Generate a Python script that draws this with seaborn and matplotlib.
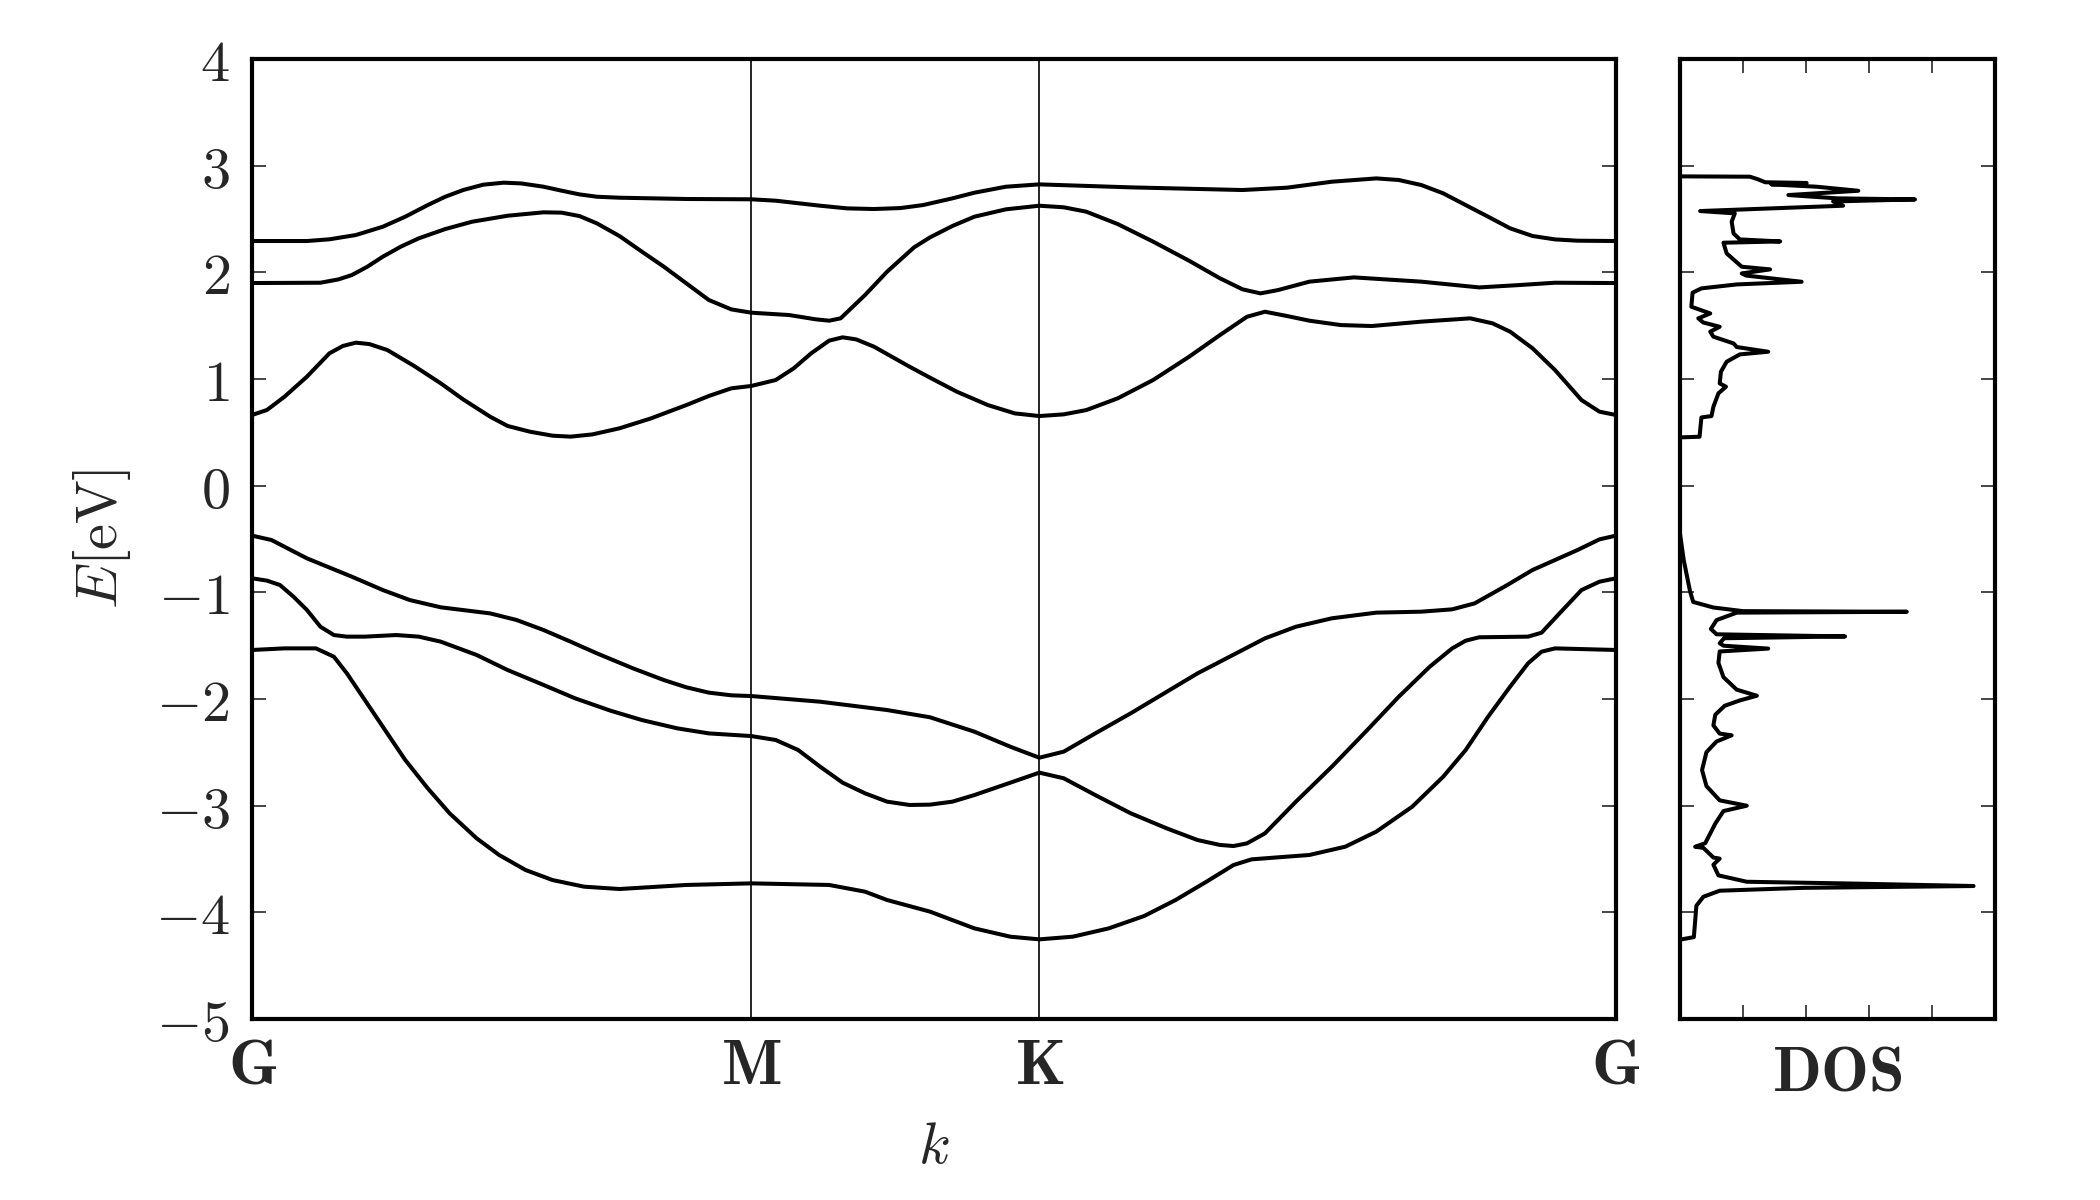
import numpy as np
import pandas as pd
import seaborn as sns
import matplotlib.pyplot as plt

# high symmetry points along the path (hexagonal BZ, |GM| = 1)
kpath_labels = ['G', 'M', 'K', 'G']
kpath_pos = [0.0, 1.0, 1.577, 2.732]
e_ticks = [-5, -4, -3, -2, -1, 0, 1, 2, 3, 4]
dos_ticks = [1, 2, 3, 4]

# bands, lowest first
k1 = [0, 0.065, 0.128, 0.164, 0.19, 0.226, 0.271, 0.307, 0.352, 0.396, 0.45, 0.495, 0.548, 0.602,
      0.665, 0.736, 0.87, 1.0, 1.156, 1.228, 1.272, 1.358, 1.447, 1.519, 1.577, 1.644, 1.716,
      1.787, 1.85, 1.912, 1.966, 2.002, 2.055, 2.118, 2.19, 2.252, 2.324, 2.386, 2.431, 2.476,
      2.52, 2.556, 2.583, 2.61, 2.732]
E1 = [-1.540, -1.525, -1.525, -1.603, -1.759, -2.009, -2.322, -2.572, -2.837, -3.072, -3.306,
      -3.462, -3.603, -3.697, -3.759, -3.781, -3.743, -3.728, -3.743, -3.806, -3.884, -3.993,
      -4.150, -4.228, -4.253, -4.228, -4.150, -4.034, -3.884, -3.712, -3.556, -3.503, -3.484,
      -3.462, -3.384, -3.243, -3.009, -2.728, -2.478, -2.165, -1.884, -1.665, -1.556, -1.525, -1.540]

k2 = [0, 0.03, 0.056, 0.083, 0.11, 0.137, 0.164, 0.19, 0.226, 0.289, 0.334, 0.378, 0.45, 0.512,
      0.584, 0.647, 0.718, 0.781, 0.852, 0.915, 1.0, 1.049, 1.094, 1.138, 1.183, 1.228, 1.272,
      1.317, 1.358, 1.403, 1.447, 1.519, 1.577, 1.626, 1.689, 1.76, 1.832, 1.894, 1.939, 1.966,
      1.993, 2.029, 2.091, 2.163, 2.234, 2.297, 2.359, 2.404, 2.431, 2.458, 2.556, 2.583, 2.619,
      2.663, 2.699, 2.732]
E2 = [-0.868, -0.890, -0.931, -1.040, -1.165, -1.322, -1.400, -1.415, -1.415, -1.400, -1.415,
      -1.462, -1.587, -1.728, -1.868, -1.993, -2.109, -2.197, -2.275, -2.322, -2.347, -2.384,
      -2.478, -2.634, -2.784, -2.884, -2.962, -2.993, -2.990, -2.962, -2.900, -2.784, -2.690,
      -2.743, -2.900, -3.071, -3.212, -3.322, -3.368, -3.378, -3.353, -3.259, -2.962, -2.634,
      -2.290, -1.978, -1.697, -1.525, -1.453, -1.421, -1.415, -1.378, -1.197, -0.978, -0.900, -0.868]

k3 = [0, 0.039, 0.11, 0.2, 0.262, 0.316, 0.378, 0.477, 0.53, 0.584, 0.638, 0.691, 0.763, 0.825,
      0.87, 0.915, 0.96, 1.0, 1.138, 1.272, 1.358, 1.447, 1.519, 1.577, 1.626, 1.689, 1.76,
      1.894, 2.029, 2.091, 2.163, 2.252, 2.342, 2.404, 2.449, 2.511, 2.565, 2.655, 2.699, 2.732]
E3 = [-0.468, -0.509, -0.681, -0.853, -0.978, -1.072, -1.140, -1.197, -1.259, -1.353, -1.462,
      -1.572, -1.712, -1.822, -1.890, -1.940, -1.965, -1.972, -2.025, -2.103, -2.171, -2.306,
      -2.447, -2.550, -2.493, -2.322, -2.134, -1.759, -1.431, -1.322, -1.243, -1.190, -1.181,
      -1.159, -1.103, -0.940, -0.790, -0.603, -0.503, -0.468]

k4 = [0, 0.03, 0.065, 0.11, 0.155, 0.182, 0.208, 0.235, 0.271, 0.325, 0.378, 0.423, 0.477, 0.512,
      0.557, 0.602, 0.638, 0.682, 0.736, 0.799, 0.87, 0.915, 0.96, 1.0, 1.049, 1.085, 1.12,
      1.156, 1.183, 1.21, 1.246, 1.317, 1.358, 1.412, 1.474, 1.528, 1.577, 1.626, 1.671, 1.734,
      1.805, 1.877, 1.939, 1.993, 2.029, 2.073, 2.118, 2.181, 2.243, 2.342, 2.44, 2.485, 2.52,
      2.565, 2.61, 2.663, 2.699, 2.732]
E4 = [0.663, 0.710, 0.834, 1.022, 1.241, 1.310, 1.341, 1.328, 1.272, 1.122, 0.960, 0.809, 0.647,
      0.560, 0.506, 0.469, 0.460, 0.481, 0.538, 0.631, 0.756, 0.841, 0.913, 0.935, 0.991, 1.100,
      1.241, 1.360, 1.391, 1.372, 1.303, 1.116, 1.013, 0.881, 0.756, 0.678, 0.653, 0.669, 0.709,
      0.819, 0.991, 1.209, 1.413, 1.584, 1.631, 1.591, 1.547, 1.506, 1.497, 1.538, 1.569, 1.522,
      1.444, 1.288, 1.084, 0.803, 0.694, 0.663]

k5 = [0, 0.137, 0.173, 0.2, 0.231, 0.262, 0.298, 0.334, 0.387, 0.441, 0.512, 0.584, 0.62, 0.656,
      0.691, 0.736, 0.781, 0.825, 0.87, 0.915, 0.96, 1.0, 1.076, 1.129, 1.156, 1.179, 1.228,
      1.272, 1.326, 1.358, 1.403, 1.447, 1.51, 1.577, 1.626, 1.671, 1.734, 1.805, 1.877, 1.939,
      1.984, 2.02, 2.055, 2.118, 2.207, 2.342, 2.458, 2.538, 2.61, 2.732]
E5 = [1.900, 1.903, 1.934, 1.975, 2.053, 2.147, 2.241, 2.319, 2.406, 2.475, 2.531, 2.563, 2.560,
      2.528, 2.459, 2.341, 2.194, 2.053, 1.897, 1.741, 1.653, 1.622, 1.600, 1.560, 1.547, 1.569,
      1.788, 2.006, 2.234, 2.328, 2.435, 2.522, 2.591, 2.625, 2.610, 2.569, 2.453, 2.288, 2.109,
      1.944, 1.841, 1.803, 1.834, 1.913, 1.953, 1.913, 1.859, 1.881, 1.903, 1.900]

k6 = [0, 0.11, 0.155, 0.208, 0.262, 0.307, 0.352, 0.387, 0.423, 0.463, 0.504, 0.539, 0.584, 0.62,
      0.656, 0.691, 0.736, 0.87, 1.0, 1.049, 1.138, 1.192, 1.246, 1.299, 1.344, 1.403, 1.447,
      1.51, 1.577, 1.76, 1.984, 2.073, 2.163, 2.252, 2.297, 2.342, 2.386, 2.431, 2.476, 2.52,
      2.565, 2.61, 2.655, 2.732]
E6 = [2.294, 2.294, 2.310, 2.350, 2.428, 2.522, 2.631, 2.709, 2.772, 2.822, 2.841, 2.834, 2.803,
      2.766, 2.731, 2.709, 2.700, 2.688, 2.685, 2.672, 2.625, 2.600, 2.594, 2.603, 2.631, 2.694,
      2.747, 2.803, 2.825, 2.797, 2.772, 2.794, 2.850, 2.881, 2.866, 2.819, 2.741, 2.631, 2.522,
      2.413, 2.341, 2.309, 2.297, 2.294]

# density of states, from top of the window down
dos_E = [4.0, 2.90, 2.897, 2.872, 2.845, 2.838, 2.825, 2.803, 2.765, 2.725, 2.694, 2.684, 2.665,
         2.625, 2.575, 2.553, 2.475, 2.365, 2.309, 2.29, 2.278, 2.178, 2.053, 2.028, 1.99, 1.97,
         1.912, 1.887, 1.85, 1.81, 1.678, 1.615, 1.569, 1.53, 1.49, 1.444, 1.397, 1.334, 1.30,
         1.256, 1.231, 1.162, 1.069, 0.959, 0.928, 0.866, 0.74, 0.653, 0.64, 0.459, 0.453,
         -0.45, -0.7, -0.992, -1.09, -1.142, -1.176, -1.182, -1.19, -1.26, -1.343, -1.393, -1.413,
         -1.43, -1.477, -1.50, -1.527, -1.554, -1.661, -1.795, -1.912, -1.969, -2.013, -2.063,
         -2.147, -2.247, -2.324, -2.34, -2.398, -2.498, -2.666, -2.816, -2.95, -3.0, -3.05, -3.168,
         -3.352, -3.385, -3.395, -3.486, -3.496, -3.553, -3.653, -3.713, -3.73, -3.753, -3.77,
         -3.797, -3.854, -3.938, -4.232, -4.256, -5.0]
dos_val = [0, 0, 1.11, 1.24, 1.35, 2.01, 1.45, 2.17, 2.83, 1.72, 2.49, 3.73, 2.43,
           2.59, 0.32, 0.87, 0.82, 0.85, 0.95, 1.59, 0.69, 0.74, 0.98, 1.43, 0.98, 1.05,
           1.93, 0.90, 0.34, 0.20, 0.18, 0.48, 0.29, 0.37, 0.63, 0.48, 0.53, 0.85, 0.90,
           1.40, 0.95, 0.74, 0.65, 0.63, 0.73, 0.61, 0.53, 0.50, 0.34, 0.31, 0,
           0, 0.06, 0.16, 0.21, 0.53, 1.0, 3.60, 0.90, 0.58, 0.49, 0.58, 2.62,
           0.70, 0.63, 0.69, 1.40, 0.63, 0.61, 0.69, 0.90, 1.22, 0.95, 0.71,
           0.56, 0.53, 0.63, 0.82, 0.58, 0.42, 0.35, 0.42, 0.63, 1.06, 0.69, 0.56,
           0.40, 0.24, 0.37, 0.53, 0.63, 0.53, 0.61, 1.06, 2.75, 4.66, 1.96,
           0.63, 0.37, 0.26, 0.22, 0, 0]

sns.set_theme(style='white')
plt.rcParams['mathtext.fontset'] = 'cm'
plt.rcParams['font.family'] = ['DejaVu Serif']
plt.rcParams['axes.edgecolor'] = 'black'
plt.rcParams['axes.linewidth'] = 1.5
plt.rcParams['lines.solid_joinstyle'] = 'round'

band_k = [k1, k2, k3, k4, k5, k6]
band_E = [E1, E2, E3, E4, E5, E6]
bands = pd.concat([pd.DataFrame({'k': k, 'E': E, 'band': i})
                   for i, (k, E) in enumerate(zip(band_k, band_E))], ignore_index=True)

fig = plt.figure(figsize=(10.5, 6), dpi=200)
ax = fig.add_axes([0.12, 0.1508, 0.6495, 0.8])
ax_dos = fig.add_axes([0.8, 0.1508, 0.15, 0.8])

sns.lineplot(data=bands, x='k', y='E', units='band', estimator=None,
             color='black', lw=1.45, ax=ax)
for kp in kpath_pos[1:-1]:
    ax.axvline(kp, color='black', lw=0.6)

ax.set_xlim(kpath_pos[0], kpath_pos[-1])
ax.set_ylim(-5, 4)
ax.set_xticks(kpath_pos)
ax.set_xticklabels([r'$\mathbf{%s}$' % s for s in kpath_labels], fontsize=23)
ax.set_yticks(e_ticks)
ax.set_yticklabels([f'${v}$' for v in e_ticks], fontsize=21)
ax.tick_params(axis='x', length=0, pad=6)
ax.tick_params(axis='y', direction='in', length=5, width=0.6, left=True, right=True, pad=8)
ax.set_xlabel(r'$k$', fontsize=21, labelpad=8)
ax.set_ylabel(r'$E[\mathrm{eV}]$', fontsize=21, labelpad=8)

sns.lineplot(x=dos_val, y=dos_E, sort=False, estimator=None, color='black', lw=1.45, ax=ax_dos)
ax_dos.set_xlim(0, 5)
ax_dos.set_ylim(-5, 4)
ax_dos.set_xticks(dos_ticks)
ax_dos.set_xticklabels([])
ax_dos.set_yticks(e_ticks)
ax_dos.set_yticklabels([])
ax_dos.tick_params(axis='both', direction='in', length=5, width=0.6,
                   left=True, right=True, top=True, bottom=True)
ax_dos.set_xlabel(r'$\mathbf{DOS}$', fontsize=23, labelpad=5)
ax_dos.set_ylabel('')

fig.savefig('out.png', dpi=200)
